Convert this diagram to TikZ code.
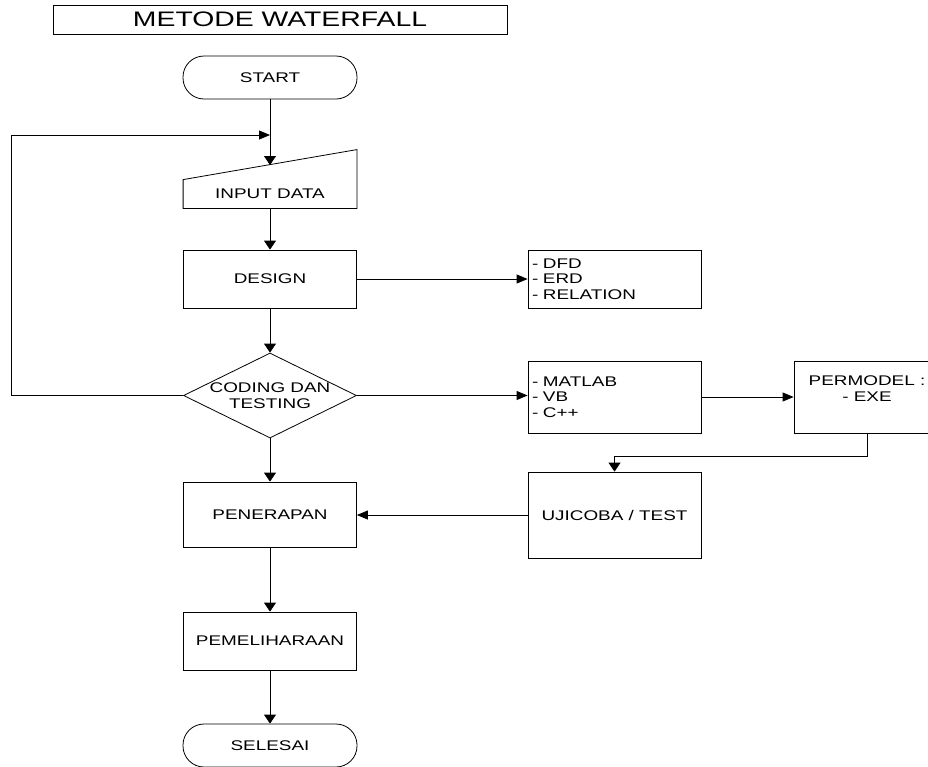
\documentclass[tikz,border=0pt]{standalone}
\usepackage{fontspec}
\setmainfont[FakeStretch=1.35]{Liberation Sans}
\usetikzlibrary{arrows.meta, shapes.geometric}

\tikzset{
  txt/.style={font=\fontsize{14}{15.5}\selectfont},
  box/.style={draw, txt, minimum width=173pt, minimum height=58pt, inner sep=0pt},
  listbox/.style={box, align=left, text width=165pt, inner xsep=4pt},
  terminal/.style={box, minimum width=174pt, minimum height=43pt, rounded corners=21pt},
  decision/.style={draw, diamond, minimum width=173pt, minimum height=85pt, inner sep=0pt},
  vflow/.style={-{Triangle[length=9pt,width=12pt]}},
  hflow/.style={-{Triangle[length=11pt,width=9pt]}}
}

\begin{document}
\begin{tikzpicture}[x=1pt, y=-1pt, line width=0.8pt]
  \useasboundingbox (0,0) rectangle (928,766);
  \node[draw, minimum width=454pt, minimum height=29pt, font=\fontsize{21}{22}\selectfont] (title) at (280,19.5) {METODE WATERFALL};
  % main column
  \node[terminal] (start) at (270,77.5) {START};
  \node[box, draw=none, minimum height=28pt] (input) at (270,194) {INPUT DATA};
  \draw (input.north west) -- (input.south west) -- (input.south east) -- ([yshift=30pt]input.north east) -- cycle;
  \coordinate (inputtop) at (270,165);
  \coordinate (loopjoin) at (270,135);
  \node[box] (design) at (270,279) {DESIGN};
  \node[decision, label={[txt, align=center]center:CODING DAN\\TESTING}] (code) at (270,395.5) {};
  \node[box, minimum height=65pt] (penerapan) at (270,514.5) {PENERAPAN};
  \node[box] (pemeliharaan) at (270,641) {PEMELIHARAAN};
  \node[terminal] (selesai) at (270,745.5) {SELESAI};
  % right side
  \node[listbox] (dfd) at (614.5,279) {- DFD\\- ERD\\- RELATION};
  \node[listbox, minimum height=72pt] (matlab) at (614.5,397) {- MATLAB\\- VB\\- C++};
  \node[box, minimum width=146pt, minimum height=72pt,
        label={[txt, align=center, anchor=north, inner sep=0pt, yshift=-15pt]north:PERMODEL :\\- EXE}] (permodel) at (867,397) {};
  \node[box, minimum height=86pt] (ujicoba) at (614.5,515) {UJICOBA / TEST};
  % flow
  \draw[vflow] (start) -- (inputtop);
  \draw[vflow] (input) -- (design);
  \draw[vflow] (design) -- (code);
  \draw[vflow] (code) -- (penerapan);
  \draw[vflow] (penerapan) -- (pemeliharaan);
  \draw[vflow] (pemeliharaan) -- (selesai);
  \draw[hflow] (code.west) -- ++(-172,0) |- (loopjoin);
  \draw[hflow] (design) -- (dfd);
  \draw[hflow] (code.east) -- (code.east -| matlab.west);
  \draw[hflow] (matlab) -- (permodel);
  \draw[vflow] (permodel.south) -- ++(0,23) -| (ujicoba.north);
  \draw[hflow] (ujicoba.west) -- (ujicoba.west -| penerapan.east);
\end{tikzpicture}
\end{document}
